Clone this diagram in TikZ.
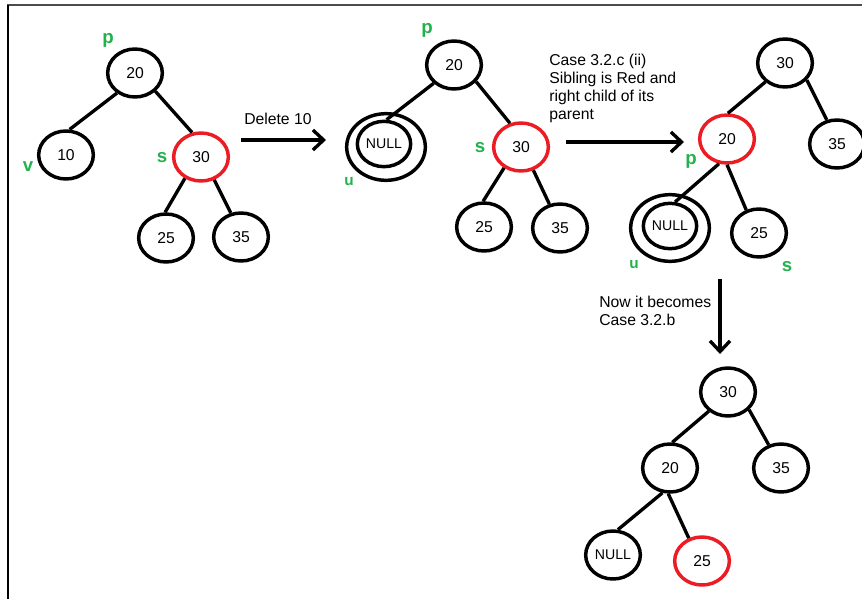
\documentclass[tikz,border=0pt]{standalone}
\usepackage{fontspec}
\setmainfont{Liberation Sans}
\usetikzlibrary{shapes.geometric,arrows.meta}
\definecolor{rbred}{RGB}{236,28,36}
\definecolor{lblgreen}{RGB}{34,177,76}
\begin{document}
\begin{tikzpicture}[x=0.75pt,y=-0.75pt,
  nd/.style={ellipse, draw, line width=2.6pt, minimum width=41pt, minimum height=36pt,
    inner sep=0pt, font=\fontsize{11.8}{13}\selectfont},
  nullfont/.style={font=\fontsize{10.6}{12}\selectfont},
  nullout/.style={ellipse, draw, line width=2.6pt, minimum width=59pt, minimum height=50pt, inner sep=0pt},
  nullin/.style={ellipse, draw, line width=2.6pt, minimum width=40pt, minimum height=34pt,
    inner sep=0pt, nullfont},
  redn/.style={draw=rbred},
  edge/.style={line width=2.5pt},
  flow/.style={line width=2.5pt, -{Straight Barb[length=8pt,width=15pt]}},
  txt/.style={anchor=base west, inner sep=0pt, font=\fontsize{11.8}{13.5}\selectfont},
  tag/.style={inner sep=0pt, text=lblgreen, font=\bfseries\fontsize{14}{14}\selectfont},
  smalltag/.style={inner sep=0pt, text=lblgreen, font=\bfseries\fontsize{11.5}{11.5}\selectfont}]
\useasboundingbox (0,0) rectangle (862,599);

% frame
\draw[line width=1.5pt, black!70] (7,5) -- (862,5);
\draw[line width=1.5pt] (8,5) -- (8,599);

% ---- tree 1 ----
\node[nd] (a20) at (135,73) {20};
\node[nd] (a10) at (66,155) {10};
\node[nd, redn] (a30) at (201,157) {30};
\node[nd] (a25) at (166,238) {25};
\node[nd] (a35) at (241,237) {35};
\draw[edge] (a20.228) -- (a10.82);
\draw[edge] (a20.318) -- (a30.110);
\draw[edge] (a30.233) -- (a25.92);
\draw[edge] (a30.300) -- (a35.113);
\node[tag] (ap) at (108,40) {p};
\node[tag] (av) at (28,167) {v};
\node[tag] (as) at (162,158) {s};

% ---- arrow 1 ----
\coordinate (g1s) at (241,140);
\coordinate (g1e) at (326,140);
\draw[flow] (g1s) -- (g1e);
\node[txt] (t1) at (244,125) {Delete 10};

% ---- tree 2 ----
\node[nd] (b20) at (454,65) {20};
\node[nullout] (bnullo) at (386,147) {};
\node[nullin] (bnull) at (384,144) {NULL};
\node[nd, redn] (b30) at (521,147) {30};
\node[nd] (b25) at (484,227) {25};
\node[nd] (b35) at (560,228) {35};
\draw[edge] (b20.222) -- (bnull.84);
\draw[edge] (b20.323) -- (b30.115);
\draw[edge] (b30.231) -- (b25.92);
\draw[edge] (b30.298) -- (b35.114);
\node[tag] (bp) at (427,30) {p};
\node[smalltag] (bu) at (349,182) {u};
\node[tag] (bs) at (480,148) {s};

% ---- arrow 2 ----
\coordinate (g2s) at (566,142);
\coordinate (g2e) at (684,142);
\draw[flow] (g2s) -- (g2e);
\node[txt] (t2a) at (549,66) {Case 3.2.c (ii)};
\node[txt] (t2b) at (549,84) {Sibling is Red and};
\node[txt] (t2c) at (549,102) {right child of its};
\node[txt] (t2d) at (549,120) {parent};

% ---- tree 3 ----
\node[nd] (c30) at (785,63) {30};
\node[nd, redn] (c20) at (727,139) {20};
\node[nd] (c35) at (837,144) {35};
\node[nullout] (cnullo) at (670,228) {};
\node[nullin] (cnull) at (670,226) {NULL};
\node[nd] (c25) at (759,233) {25};
\draw[edge] (c30.224) -- (c20.88);
\draw[edge] (c30.322) -- (c35.113);
\draw[edge] (c20.252) -- (cnull.78);
\draw[edge] (c20.270) -- (c25.119);
\node[tag] (cp) at (691,161) {p};
\node[smalltag] (cu) at (634,265) {u};
\node[tag] (cs) at (787,267) {s};

% ---- arrow 3 ----
\coordinate (g3s) at (720,279);
\coordinate (g3e) at (720,354);
\draw[flow] (g3s) -- (g3e);
\node[txt] (t3a) at (599,307) {Now it becomes};
\node[txt] (t3b) at (599,325) {Case 3.2.b};

% ---- tree 4 ----
\node[nd] (d30) at (728,392) {30};
\node[nd] (d20) at (670,468) {20};
\node[nd] (d35) at (781,468) {35};
\node[nd, nullfont] (dnull) at (613,555) {NULL};
\node[nd, redn] (d25) at (702,561) {25};
\draw[edge] (d30.225) -- (d20.85);
\draw[edge] (d30.320) -- (d35.118);
\draw[edge] (d20.253) -- (dnull.79);
\draw[edge] (d20.266) -- (d25.120);
\end{tikzpicture}
\end{document}
